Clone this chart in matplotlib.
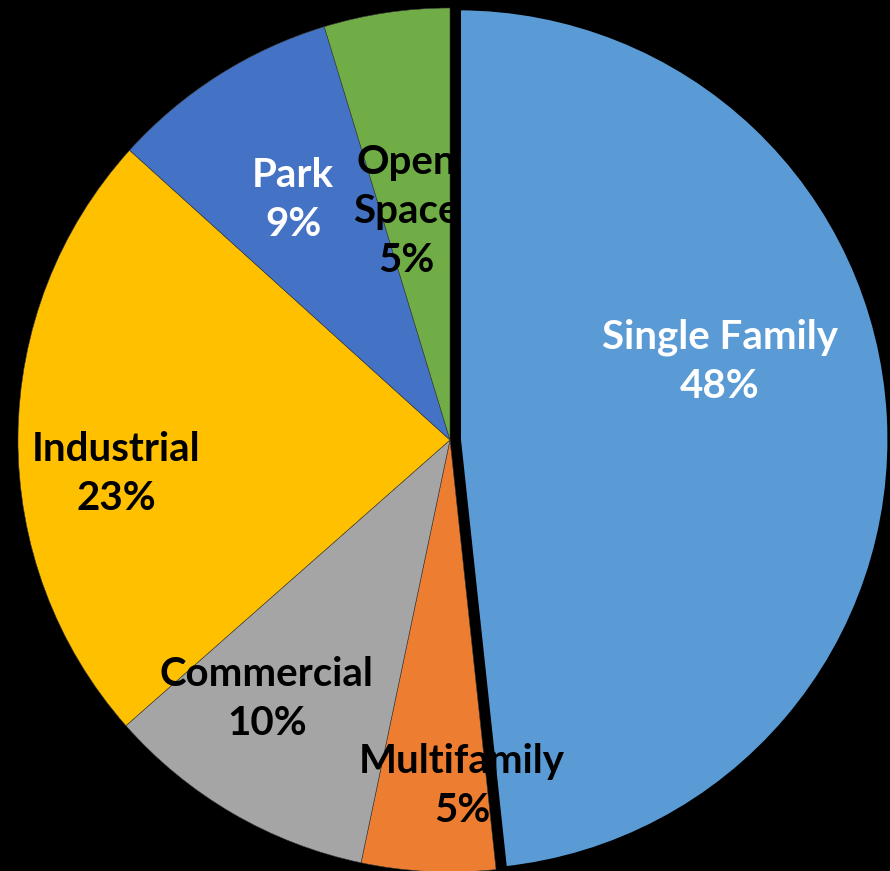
import numpy as np
import matplotlib
matplotlib.use('Agg')
import matplotlib.pyplot as plt
from matplotlib.patches import Wedge

# ======================
# DATA
# ======================
categories = ['Single Family', 'Multifamily', 'Commercial', 'Industrial', 'Park', 'Open\nSpace']
shares = [48.3, 5.0, 10.2, 23.2, 8.6, 4.7]
colors = ['#5b9bd5', '#ed7d31', '#a5a5a5', '#ffc000', '#4472c4', '#70ad47']
text_colors = ['white', 'black', 'black', 'black', 'white', 'black']

# label spots (data units, pie radius = 1)
label_pos = [(0.625, 0.18), (0.028, -0.80), (-0.424, -0.60),
             (-0.773, -0.079), (-0.363, 0.556), (-0.10, 0.528)]

W, H = 890, 871
cx, cy, R = 450, 440, 432

fig = plt.figure(figsize=(W / 100, H / 100), dpi=100)
fig.patch.set_facecolor('black')
ax = fig.add_axes([0, 0, 1, 1])
ax.set_facecolor('black')

explode = [0.019, 0, 0, 0, 0, 0]
wedges, _ = ax.pie(shares, colors=colors, startangle=90, counterclock=False,
                   explode=explode, radius=1,
                   wedgeprops=dict(edgecolor='#3a3a3a', linewidth=0.4))

for (x, y), lab, val, tc in zip(label_pos, categories, shares, text_colors):
    ax.text(x, y, f'{lab}\n{val:.0f}%', ha='center', va='center',
            color=tc, fontsize=29, fontweight='bold', family='Lato',
            linespacing=1.4, zorder=5)

# black outline around the pulled-out slice, drawn over the labels
w0 = wedges[0]
outline = Wedge(w0.center, w0.r, w0.theta1, w0.theta2, facecolor='none',
                edgecolor='black', linewidth=4, zorder=6)
ax.add_patch(outline)

ax.set_aspect('auto')
ax.set_xlim(-cx / R, (W - cx) / R)
ax.set_ylim(-(H - cy) / R, cy / R)
ax.axis('off')

fig.savefig('out.png', dpi=100, facecolor='black')
